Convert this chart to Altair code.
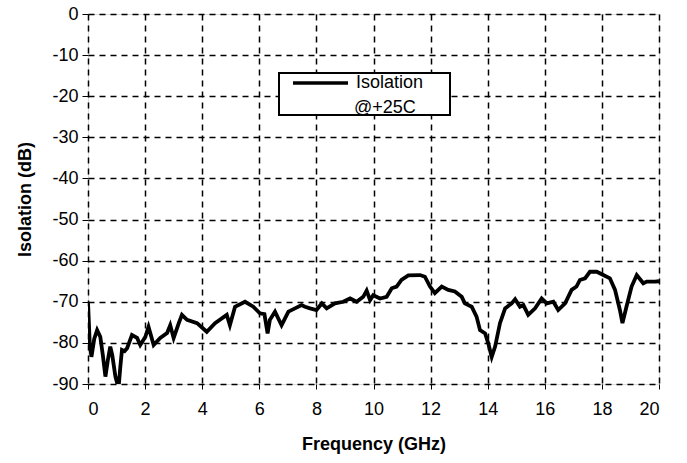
import altair as alt
import pandas as pd

freq = [0.0, 0.06, 0.12, 0.22, 0.32, 0.43, 0.52, 0.61, 0.70, 0.78, 0.85, 0.96, 1.07, 1.13, 1.19, 1.28, 1.37, 1.54, 1.72, 1.83, 2.01, 2.12, 2.30,
        2.53, 2.77, 2.88, 3.00, 3.18, 3.29, 3.47, 3.82, 4.16, 4.45, 4.86, 4.97, 5.15, 5.50, 5.79, 6.02, 6.18, 6.29,
        6.37, 6.55, 6.78, 7.02, 7.25, 7.48, 7.60, 7.78, 8.00, 8.19, 8.36, 8.65, 8.94, 9.18, 9.41, 9.64, 9.76,
        9.88, 9.99, 10.23, 10.46, 10.64, 10.81, 10.98, 11.22, 11.63, 11.80, 11.98, 12.15, 12.39, 12.62, 12.85,
        13.09, 13.20, 13.44, 13.61, 13.73, 13.91, 14.02, 14.14, 14.26, 14.43, 14.61, 14.84, 14.96, 15.13, 15.25,
        15.42, 15.66, 15.89, 16.07, 16.30, 16.47, 16.71, 16.94, 17.11, 17.23, 17.41, 17.58, 17.82, 18.05, 18.28,
        18.46, 18.63, 18.72, 18.86, 19.04, 19.22, 19.45, 19.57, 19.86, 20.0]
iso = [-70.0, -80.0, -83.4, -79.0, -76.9, -78.5, -83.0, -88.2, -84.0, -80.9, -83.0, -88.2, -91.0, -86.0, -81.7, -82.0, -81.3, -78.1, -78.8, -80.5, -78.5, -76.1, -80.5,
       -78.8, -77.6, -75.7, -78.8, -75.2, -73.2, -74.4, -75.2, -77.3, -75.2, -73.2, -75.7, -71.2, -70.0, -71.2, -72.8, -73.0, -77.7,
       -74.4, -72.4, -75.7, -72.4, -71.6, -70.8, -71.2, -71.6, -72.0, -70.4, -71.6, -70.4, -70.0, -69.2, -70.0, -68.8, -67.3,
       -69.6, -68.4, -69.2, -68.8, -66.7, -66.3, -64.7, -63.6, -63.5, -63.9, -66.3, -67.9, -66.3, -67.1, -67.5,
       -68.8, -70.4, -71.2, -73.6, -76.9, -77.7, -80.1, -83.4, -80.9, -75.2, -71.6, -70.4, -69.4, -71.2, -70.8,
       -73.2, -71.6, -69.2, -70.4, -70.0, -72.0, -70.4, -67.1, -66.3, -64.7, -64.3, -62.7, -62.7, -63.5, -64.3,
       -67.1, -72.0, -75.2, -71.2, -66.3, -63.5, -65.5, -65.1, -65.1, -65.0]

x_ticks = list(range(0, 21, 2))
y_ticks = list(range(-90, 1, 10))
legend_lines = ["Isolation", "@+25C"]

df = pd.DataFrame({"freq": freq, "iso": iso})
one = pd.DataFrame({"k": [0]})

FONT = "Liberation Sans"

line = alt.Chart(df).mark_line(color="black", strokeWidth=3.8, clip=True).encode(
    x=alt.X("freq:Q", scale=alt.Scale(domain=[0, 20], nice=False),
            axis=alt.Axis(values=x_ticks, title="Frequency (GHz)", grid=True,
                          gridDash=[6, 5], gridColor="black", gridWidth=1.5, gridOpacity=1,
                          labelFontSize=18, labelPadding=11, tickSize=5, tickColor="black",
                          domain=False, titleFontSize=18, titleFontWeight="bold", titlePadding=17,
                          labelColor="black", titleColor="black", labelFont=FONT, titleFont=FONT)),
    y=alt.Y("iso:Q", scale=alt.Scale(domain=[-90, 0], nice=False),
            axis=alt.Axis(values=y_ticks, title="Isolation (dB)", grid=True,
                          gridDash=[6, 5], gridColor="black", gridWidth=1.5, gridOpacity=1,
                          labelFontSize=18, labelPadding=4, tickSize=6, tickColor="black",
                          labelExpr="'' + datum.value",
                          domain=False, titleFontSize=18, titleFontWeight="bold", titlePadding=17,
                          labelColor="black", titleColor="black", labelFont=FONT, titleFont=FONT)),
)

legend_box = alt.Chart(one).mark_rect(fill="white", stroke="black", strokeWidth=2).encode(
    x=alt.value(191), x2=alt.value(362), y=alt.value(59), y2=alt.value(101)
)
legend_line = alt.Chart(one).mark_rule(color="black", strokeWidth=3.5).encode(
    x=alt.value(205), x2=alt.value(260), y=alt.value(69)
)
legend_t1 = alt.Chart(one).mark_text(text=legend_lines[0], align="left", baseline="middle",
                                      fontSize=18, font=FONT, color="black").encode(
    x=alt.value(268), y=alt.value(69)
)
legend_t2 = alt.Chart(one).mark_text(text=legend_lines[1], align="left", baseline="middle",
                                      fontSize=18, font=FONT, color="black").encode(
    x=alt.value(266), y=alt.value(94)
)

chart = alt.layer(line, legend_box, legend_line, legend_t1, legend_t2).properties(
    width=571, height=370,
    autosize=alt.AutoSizeParams(type="none"),
    padding={"left": 88, "top": 14, "right": 28, "bottom": 79},
).configure_view(stroke="black", strokeWidth=3.5).configure(background="white")

chart.save("out.html", embed_options={"renderer": "svg", "actions": False})
